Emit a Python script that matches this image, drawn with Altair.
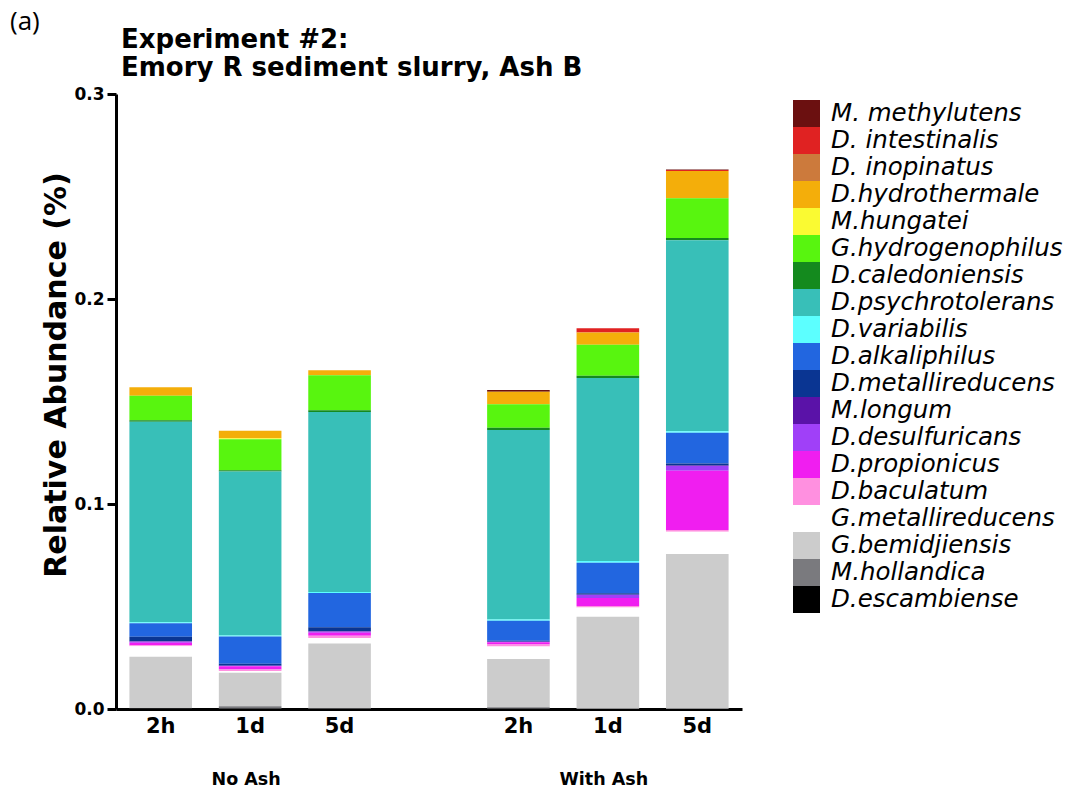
import altair as alt
import pandas as pd

# Taxa in legend order (top of legend = top of each stack)
SPECIES = [
    "M. methylutens", "D. intestinalis", "D. inopinatus", "D.hydrothermale",
    "M.hungatei", "G.hydrogenophilus", "D.caledoniensis", "D.psychrotolerans",
    "D.variabilis", "D.alkaliphilus", "D.metallireducens", "M.longum",
    "D.desulfuricans", "D.propionicus", "D.baculatum", "G.metallireducens",
    "G.bemidjiensis", "M.hollandica", "D.escambiense",
]
COLORS = [
    "#6b1010", "#e02222", "#cc7a3c", "#f4ae0a",
    "#fafa32", "#58f50f", "#148a1e", "#38bfb8",
    "#5cffff", "#2266e0", "#0a3592", "#5a12a8",
    "#a040f8", "#f01ef0", "#ff90e0", "#ffffff",
    "#cccccc", "#7a7a7e", "#000000",
]

# Bar slots on the x axis; the blank slot separates the two treatments
BAR_SLOTS = ["N 2h", "N 1d", "N 5d", "W 2h", "W 1d", "W 5d"]
AXIS_SLOTS = ["N 2h", "N 1d", "N 5d", "gap", "W 2h", "W 1d", "W 5d"]
GROUP_LABELS = ["No Ash", "With Ash"]
GROUP_SLOTS = ["N 1d", "W 1d"]

# Relative abundance per bar, one value per taxon in SPECIES order
NO_ASH_2H = [0, 0, 0, 0.0042, 0, 0.0120, 0.0007, 0.0978, 0.0005, 0.0065,
             0.0023, 0.0002, 0.0005, 0.0012, 0.0005, 0.0051, 0.0250, 0.0003, 0.0002]
NO_ASH_1D = [0, 0, 0, 0.0036, 0.0005, 0.0151, 0.0007, 0.0800, 0.0004, 0.0133,
             0.0010, 0, 0.0003, 0.0015, 0.0008, 0.0008, 0.0164, 0.0012, 0.0001]
NO_ASH_5D = [0, 0, 0, 0.0024, 0, 0.0171, 0.0008, 0.0878, 0.0005, 0.0167,
             0.0020, 0.0002, 0.0005, 0.0015, 0.0011, 0.0026, 0.0317, 0.0002, 0.0001]
WITH_ASH_2H = [0.0008, 0, 0, 0.0062, 0, 0.0114, 0.0011, 0.0924, 0.0006, 0.0098,
               0.0005, 0, 0.0002, 0.0011, 0.0010, 0.0061, 0.0236, 0.0007, 0.0001]
WITH_ASH_1D = [0, 0.0021, 0, 0.0059, 0, 0.0151, 0.0011, 0.0893, 0.0008, 0.0149,
               0.0008, 0, 0.0016, 0.0038, 0.0008, 0.0045, 0.0449, 0.0001, 0]
WITH_ASH_5D = [0.0003, 0.0005, 0, 0.0132, 0, 0.0195, 0.0010, 0.0932, 0.0008, 0.0149,
               0.0010, 0.0003, 0.0023, 0.0289, 0.0008, 0.0109, 0.0755, 0.0001, 0]

BARS = [NO_ASH_2H, NO_ASH_1D, NO_ASH_5D, WITH_ASH_2H, WITH_ASH_1D, WITH_ASH_5D]

rows = []
for slot, values in zip(BAR_SLOTS, BARS):
    for i, (sp, v) in enumerate(zip(SPECIES, values)):
        rows.append({"slot": slot, "species": sp, "value": v,
                     "stack_idx": len(SPECIES) - 1 - i})
df = pd.DataFrame(rows)

FONT = "DejaVu Sans"
W, H = 626, 615

x_enc = alt.X(
    "slot:N",
    scale=alt.Scale(domain=AXIS_SLOTS, paddingInner=0.3, paddingOuter=0.15),
    axis=alt.Axis(
        title=None, ticks=False, labelAngle=0, labelFontSize=21,
        labelFont=FONT, labelFontWeight="bold", labelColor="black",
        labelPadding=6, domainWidth=3, domainColor="black",
        labelExpr="datum.value == 'gap' ? '' : slice(datum.value, 2)",
    ),
)

bars = alt.Chart(df).mark_bar().encode(
    x=x_enc,
    y=alt.Y(
        "value:Q", stack="zero",
        scale=alt.Scale(domain=[0, 0.3], nice=False),
        axis=alt.Axis(
            title=None, values=[0, 0.1, 0.2, 0.3], format=".1f", grid=False,
            labelFontSize=17, labelFont=FONT, labelFontWeight="bold",
            labelColor="black", labelPadding=3, domainWidth=3,
            domainColor="black", tickWidth=3, tickSize=9, tickColor="black",
        ),
    ),
    color=alt.Color(
        "species:N",
        scale=alt.Scale(domain=SPECIES, range=COLORS),
        legend=alt.Legend(
            title=None, orient="none", legendX=677, legendY=6,
            symbolType="square", symbolSize=729, symbolStrokeWidth=0,
            symbolOpacity=1, labelFontSize=24.5, labelFontStyle="italic",
            labelFont=FONT, labelColor="black", labelLimit=400,
            rowPadding=0, labelOffset=11, padding=0,
        ),
    ),
    order=alt.Order("stack_idx:Q", sort="ascending"),
)

groups = alt.Chart(pd.DataFrame({"slot": GROUP_SLOTS, "label": GROUP_LABELS})).mark_text(
    fontSize=17.5, fontWeight="bold", color="black", baseline="middle", font=FONT,
    dx=-4,
).encode(x=alt.X("slot:N"), y=alt.value(686), text="label:N")

title_lines = pd.DataFrame({
    "text": ["Experiment #2:", "Emory R sediment slurry, Ash B"],
    "ypix": [-46, -18],
})
title = alt.Chart(title_lines).mark_text(
    fontSize=26, fontWeight="bold", color="black", align="left",
    baseline="alphabetic", font=FONT,
).encode(x=alt.value(5), y=alt.Y("ypix:Q", scale=None), text="text:N")

panel = alt.Chart(pd.DataFrame({"t": ["(a)"]})).mark_text(
    fontSize=26, color="black", align="left", baseline="middle", font="Open Sans"
).encode(x=alt.value(-106), y=alt.value(-72), text="t:N")

ytitle = alt.Chart(pd.DataFrame({"t": ["Relative Abundance (%)"]})).mark_text(
    fontSize=30, fontWeight="bold", color="black", align="center",
    baseline="middle", angle=270, font=FONT,
).encode(x=alt.value(-59), y=alt.value(281), text="t:N")

chart = alt.layer(bars, groups, title, panel, ytitle).properties(
    width=W, height=H,
    autosize=alt.AutoSizeParams(type="none"),
    padding={"left": 116, "top": 94, "right": 331, "bottom": 86},
).configure(font=FONT).configure_view(stroke=None)

chart.save("out.html", embed_options={"renderer": "svg", "actions": False})
